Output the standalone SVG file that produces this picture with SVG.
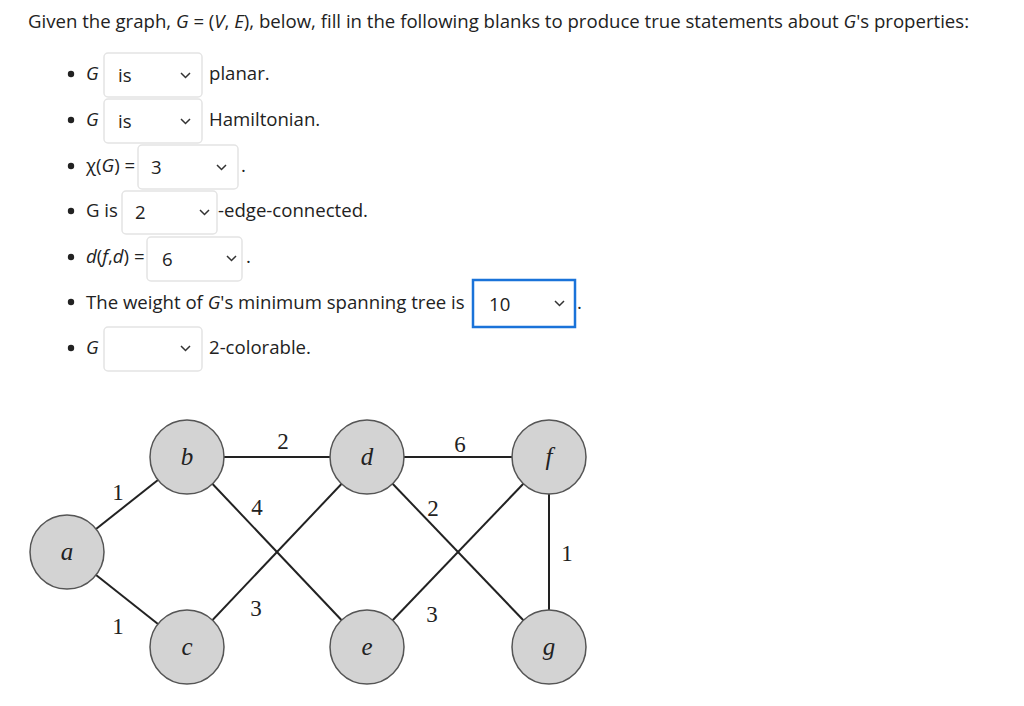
<svg xmlns="http://www.w3.org/2000/svg" width="1024" height="706" viewBox="0 0 1024 706">
<style>
.t{font-family:"Open Sans",sans-serif;font-size:18.6px;fill:#222}
.i{font-style:italic}
.box{fill:#fff;stroke:#e4e4e4;stroke-width:1.5}
.chev{fill:none;stroke:#333;stroke-width:1.5}
.node{fill:#d3d3d3;stroke:#555;stroke-width:1.5}
.nl{font-family:"Liberation Serif",serif;font-style:italic;font-size:25px;fill:#222;text-anchor:middle}
.el{font-family:"Liberation Serif",serif;font-size:23px;fill:#222;text-anchor:middle}
.e{stroke:#222;stroke-width:2}
</style>
<rect width="1024" height="706" fill="#fff"/>
<text class="t" x="28" y="28">Given the graph, <tspan class="i">G</tspan> = (<tspan class="i">V</tspan>, <tspan class="i">E</tspan>), below, fill in the following blanks to produce true statements about <tspan class="i">G</tspan>'s properties:</text>
<g fill="#222"><circle cx="71" cy="74" r="3.2"/><circle cx="71" cy="120" r="3.2"/><circle cx="71" cy="166" r="3.2"/><circle cx="71" cy="211" r="3.2"/><circle cx="71" cy="257" r="3.2"/><circle cx="71" cy="302" r="3.2"/><circle cx="71" cy="348" r="3.2"/></g>
<g id="row1"><text class="t i" x="86" y="80">G</text><rect class="box" x="104" y="53" width="98" height="44" rx="4"/><text class="t" x="118" y="82">is</text><path class="chev" d="M181 73l4.5 4.5 4.5-4.5"/><text class="t" x="209" y="80">planar.</text></g>
<g id="row2"><text class="t i" x="86" y="126">G</text><rect class="box" x="104" y="99" width="98" height="44" rx="4"/><text class="t" x="118" y="128">is</text><path class="chev" d="M181 119l4.5 4.5 4.5-4.5"/><text class="t" x="209" y="126">Hamiltonian.</text></g>
<g id="row3"><text class="t" x="86" y="172">χ(<tspan class="i">G</tspan>) =</text><rect class="box" x="138" y="145" width="100" height="44" rx="4"/><text class="t" x="151" y="174">3</text><path class="chev" d="M217 165l4.5 4.5 4.5-4.5"/><text class="t" x="241" y="172">.</text></g>
<g id="row4"><text class="t" x="86" y="217">G is</text><rect class="box" x="122" y="191" width="95" height="43" rx="4"/><text class="t" x="135" y="219">2</text><path class="chev" d="M200 210l4.5 4.5 4.5-4.5"/><text class="t" x="218" y="217">-edge-connected.</text></g>
<g id="row5"><text class="t" x="86" y="263"><tspan class="i">d</tspan>(<tspan class="i">f</tspan>,<tspan class="i">d</tspan>) =</text><rect class="box" x="147" y="237" width="95" height="44" rx="4"/><text class="t" x="162" y="266">6</text><path class="chev" d="M227 256l4.5 4.5 4.5-4.5"/><text class="t" x="246" y="263">.</text></g>
<g id="row6"><text class="t" x="86" y="309">The weight of <tspan class="i">G</tspan>'s minimum spanning tree is</text><rect x="473" y="280" width="102" height="47" fill="#fff" stroke="#1a73d9" stroke-width="2.5"/><text class="t" x="489" y="311">10</text><path class="chev" d="M555 301l4.5 4.5 4.5-4.5"/><text class="t" x="577" y="309">.</text></g>
<g id="row7"><text class="t i" x="86" y="354">G</text><rect class="box" x="104" y="327" width="98" height="44" rx="4"/><path class="chev" d="M181 346l4.5 4.5 4.5-4.5"/><text class="t" x="209" y="354">2-colorable.</text></g>
<g id="edges">
<line class="e" x1="67" y1="552" x2="187" y2="457"/><line class="e" x1="67" y1="552" x2="187" y2="647"/>
<line class="e" x1="187" y1="457" x2="367" y2="457"/><line class="e" x1="367" y1="457" x2="549" y2="457"/>
<line class="e" x1="187" y1="457" x2="367" y2="647"/><line class="e" x1="367" y1="457" x2="187" y2="647"/>
<line class="e" x1="367" y1="457" x2="549" y2="647"/><line class="e" x1="549" y1="457" x2="367" y2="647"/>
<line class="e" x1="549" y1="457" x2="549" y2="647"/>
</g>
<g id="edge-labels">
<text class="el" x="118" y="500">1</text><text class="el" x="118" y="634">1</text><text class="el" x="283" y="449">2</text><text class="el" x="460" y="452">6</text><text class="el" x="257" y="515">4</text><text class="el" x="433" y="516">2</text><text class="el" x="256" y="616">3</text><text class="el" x="432" y="622">3</text><text class="el" x="567" y="561">1</text>
</g>
<g id="a"><circle class="node" cx="67" cy="552" r="37"/><text class="nl" x="67" y="560">a</text></g>
<g id="b"><circle class="node" cx="187" cy="457" r="37"/><text class="nl" x="187" y="465">b</text></g>
<g id="c"><circle class="node" cx="187" cy="647" r="37"/><text class="nl" x="187" y="655">c</text></g>
<g id="d"><circle class="node" cx="367" cy="457" r="37"/><text class="nl" x="367" y="465">d</text></g>
<g id="e"><circle class="node" cx="367" cy="647" r="37"/><text class="nl" x="367" y="655">e</text></g>
<g id="f"><circle class="node" cx="549" cy="457" r="37"/><text class="nl" x="549" y="465">f</text></g>
<g id="g"><circle class="node" cx="549" cy="647" r="37"/><text class="nl" x="549" y="655">g</text></g>
</svg>
